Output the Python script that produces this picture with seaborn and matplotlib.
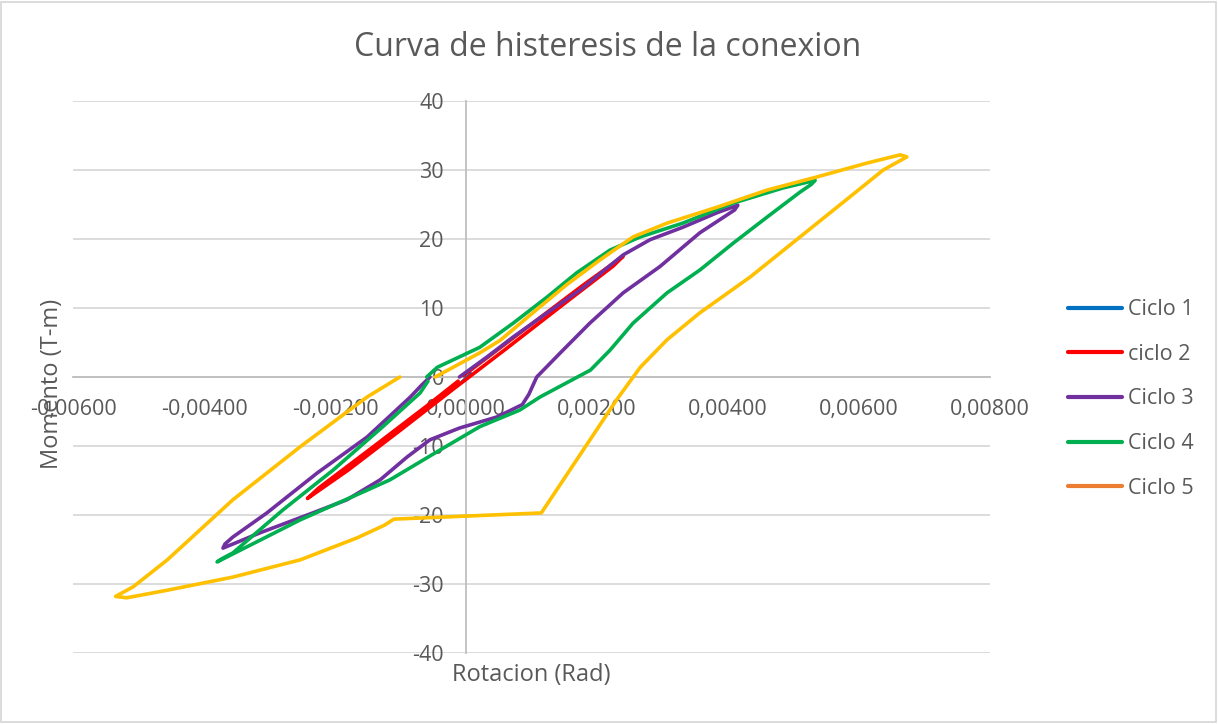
import numpy as np
import matplotlib
matplotlib.use("Agg")
import matplotlib.pyplot as plt
from matplotlib.lines import Line2D
from matplotlib.patches import Rectangle
import seaborn as sns

# %% data (Rotacion in rad, Momento in T-m)
c1_x = [0.00000, 0.00008, -0.00016, -0.00022, -0.00006, 0.00000]
c1_y = [0.0, 0.6, -1.4, -2.0, -0.7, 0.0]

c2_x = [-0.00004, 0.00060, 0.00120, 0.00180, 0.00240, 0.00225, 0.00140, 0.00060,
        -0.00020, -0.00100, -0.00180, -0.00242, -0.00225, -0.00140, -0.00060, -0.00012]
c2_y = [0.2, 4.8, 9.1, 13.4, 17.5, 16.1, 9.9, 4.0,
        -1.8, -7.7, -13.5, -17.6, -16.1, -10.0, -4.2, -0.6]

c3_x = [-0.00010, 0.00032, 0.00072, 0.00124, 0.00174, 0.00240, 0.00281, 0.00331,
        0.00383, 0.00415, 0.00410, 0.00357, 0.00296, 0.00240, 0.00189, 0.00144,
        0.00108, 0.00096, 0.00086, 0.00047, -0.00010, -0.00055, -0.00090, -0.00131,
        -0.00182, -0.00234, -0.00315, -0.00371, -0.00368, -0.00356, -0.00304, -0.00227,
        -0.00151, -0.00085, -0.00068, -0.00055]
c3_y = [0.0, 2.9, 5.8, 9.3, 12.6, 17.7, 19.9, 21.7,
        23.8, 24.9, 24.2, 20.9, 16.0, 12.2, 7.8, 3.5,
        0.0, -2.5, -4.0, -5.8, -7.4, -9.1, -11.6, -14.9,
        -17.8, -19.7, -22.6, -24.8, -24.2, -23.2, -19.7, -13.9,
        -8.7, -2.9, -1.2, 0.0]

c4_x = [-0.00060, -0.00044, 0.00021, 0.00072, 0.00124, 0.00169, 0.00220, 0.00266,
        0.00331, 0.00408, 0.00484, 0.00533, 0.00527, 0.00510, 0.00460, 0.00408,
        0.00357, 0.00307, 0.00255, 0.00220, 0.00190, 0.00113, 0.00082, 0.00021,
        -0.00040, -0.00116, -0.00151, -0.00253, -0.00380, -0.00372, -0.00356, -0.00280,
        -0.00203, -0.00127, -0.00070, -0.00058]
c4_y = [0.0, 1.4, 4.3, 7.8, 11.6, 15.1, 18.4, 20.3,
        22.3, 25.2, 27.4, 28.5, 27.9, 26.8, 23.2, 19.4,
        15.5, 12.2, 7.8, 3.9, 1.0, -2.9, -4.8, -7.2,
        -10.6, -14.9, -16.4, -20.7, -26.8, -26.3, -25.5, -19.3,
        -13.5, -7.2, -2.3, -0.6]

c5_x = [-0.00047, 0.00021, 0.00052, 0.00102, 0.00154, 0.00205, 0.00255, 0.00307,
        0.00383, 0.00460, 0.00536, 0.00612, 0.00663, 0.00673, 0.00637, 0.00586,
        0.00510, 0.00434, 0.00357, 0.00307, 0.00266, 0.00230, 0.00115, -0.00110,
        -0.00125, -0.00166, -0.00253, -0.00356, -0.00456, -0.00518, -0.00535, -0.00508,
        -0.00456, -0.00356, -0.00253, -0.00151, -0.00101]
c5_y = [0.0, 3.5, 5.3, 9.3, 13.4, 17.0, 20.3, 22.3,
        24.6, 27.1, 29.0, 31.0, 32.2, 31.9, 30.0, 26.1,
        20.3, 14.5, 9.3, 5.4, 1.4, -3.3, -19.7, -20.6,
        -21.5, -23.3, -26.5, -29.0, -30.9, -32.0, -31.8, -30.4,
        -26.5, -17.8, -10.1, -2.9, 0.0]

labels = ["Ciclo 1", "ciclo 2", "Ciclo 3", "Ciclo 4", "Ciclo 5"]

x_ticks = [-0.006, -0.004, -0.002, 0.0, 0.002, 0.004, 0.006, 0.008]
x_tick_labels = ["-0,00600", "-0,00400", "-0,00200", "0,00000",
                 "0,00200", "0,00400", "0,00600", "0,00800"]
y_ticks = [-40, -30, -20, -10, 0, 10, 20, 30, 40]

# %% style
sns.set_style("white")
plt.rcParams['font.family'] = ['Open Sans', 'DejaVu Sans']
plt.rcParams['axes.unicode_minus'] = False
txt = '#595959'

fig = plt.figure(figsize=(12.18, 7.24), dpi=100)
ax = fig.add_axes([73 / 1218, 1 - 653 / 724, 917 / 1218, 552 / 724])

series = [
    (c1_x, c1_y, '#0070C0', 1.2),
    (c2_x, c2_y, '#FF0000', 2.6),
    (c3_x, c3_y, '#7030A0', 2.6),
    (c4_x, c4_y, '#00B050', 2.6),
    (c5_x, c5_y, '#FFC000', 2.6),
]
# same order as excel draws them, last one on top
for i, (xs, ys, col, lw) in enumerate(series):
    sns.lineplot(x=xs, y=ys, sort=False, estimator=None, color=col,
                 linewidth=lw, ax=ax, zorder=3 + i,
                 solid_joinstyle='round', solid_capstyle='round')

ax.set_xlim(-0.006, 0.008)
ax.set_ylim(-40, 40)
ax.set_xticks(x_ticks, x_tick_labels)
ax.set_yticks(y_ticks)
ax.grid(axis='y', color='#D9D9D9', linewidth=1.3, zorder=0)
ax.grid(axis='x', visible=False)

for s in ['top', 'right']:
    ax.spines[s].set_visible(False)
ax.spines['left'].set_position(('data', 0))
ax.spines['bottom'].set_position(('data', 0))
for s in ['left', 'bottom']:
    ax.spines[s].set_color('#BFBFBF')
    ax.spines[s].set_linewidth(1.3)
    ax.spines[s].set_zorder(1)
ax.tick_params(axis='both', length=0, labelsize=15.5, labelcolor=txt)
ax.tick_params(axis='y', pad=16)
ax.tick_params(axis='x', pad=16)
ax.set_xlabel('')
ax.set_ylabel('')

fig.text(608 / 1218, 1 - 47 / 724, 'Curva de histeresis de la conexion',
         ha='center', va='center', fontsize=23, color=txt)
fig.text(531 / 1218, 1 - 675 / 724, 'Rotacion (Rad)', ha='center', va='center',
         fontsize=17, color=txt)
fig.text(52 / 1218, 1 - 384 / 724, 'Momento (T-m)', ha='center', va='center',
         rotation=90, fontsize=17, color=txt)

leg_colors = ['#0070C0', '#FF0000', '#7030A0', '#00B050', '#ED7D31']
handles = [Line2D([0], [0], color=c, lw=3) for c in leg_colors]
fig.legend(handles, labels, loc='center left',
           bbox_to_anchor=(1068 / 1218, 1 - 399 / 724), frameon=False,
           fontsize=15.5, labelcolor=txt, handlelength=2.5, handletextpad=0.3,
           labelspacing=1.1, borderpad=0, borderaxespad=0)

fig.patches.append(Rectangle((1 / 1218, 2 / 724), 1215 / 1218, 720 / 724,
                             transform=fig.transFigure, fill=False,
                             edgecolor='#D9D9D9', linewidth=1.3))

fig.savefig('out.png', dpi=100)
